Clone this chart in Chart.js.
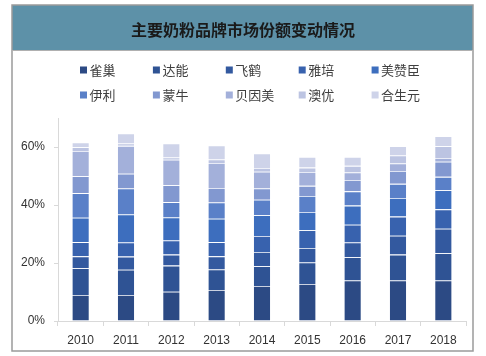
<!DOCTYPE html>
<html><head><meta charset="utf-8">
<script src="https://cdn.jsdelivr.net/npm/chart.js@4/dist/chart.umd.min.js"></script>
<style>html,body{margin:0;padding:0;background:#fff;}#wrap{width:486px;height:356px;position:relative;}</style>
</head><body><div id="wrap"><canvas id="c" width="486" height="356"></canvas></div>
<script>
const TITLE = '主要奶粉品牌市场份额变动情况';
const years = ['2010','2011','2012','2013','2014','2015','2016','2017','2018'];
const brands = ['雀巢','达能','飞鹤','雅培','美赞臣','伊利','蒙牛','贝因美','澳优','合生元'];
const nestle   = [9.0, 9.0, 10.1, 10.7, 12.1, 12.8, 14.0, 14.0, 14.0];
const danone   = [9.2, 8.7, 9.0, 7.1, 6.8, 7.4, 8.0, 8.9, 9.4];
const feihe    = [4.1, 4.5, 3.8, 4.5, 4.9, 5.0, 5.1, 6.5, 8.4];
const abbott   = [4.9, 4.9, 4.9, 4.9, 5.5, 6.1, 6.1, 6.6, 6.7];
const meadJ    = [8.4, 9.6, 7.9, 8.1, 7.2, 6.3, 6.6, 6.4, 6.6];
const yili     = [8.5, 9.0, 5.3, 5.6, 5.3, 5.5, 4.9, 4.9, 4.6];
const mengniu  = [5.8, 5.1, 5.8, 5.0, 3.9, 3.5, 3.9, 4.4, 5.2];
const beingmate= [8.7, 9.6, 8.8, 8.6, 5.8, 4.8, 2.6, 2.6, 1.3];
const ausnutria= [1.3, 0.8, 0.8, 1.2, 1.3, 1.5, 2.3, 2.8, 4.1];
const biostime = [1.7, 3.5, 4.8, 4.8, 5.0, 3.7, 3.1, 3.2, 3.4];
const yTicks = [0, 20, 40, 60];
const series = [nestle, danone, feihe, abbott, meadJ, yili, mengniu, beingmate, ausnutria, biostime];
const colors = ['#2c4a84','#2f5394','#33599f','#3862ae','#3d6ebe','#5a80c8','#8298d0','#a3b0da','#bcc4e2','#ced3e9'];

const framePlugin = {
  id: 'framePlugin',
  beforeDraw(chart) {
    const ctx = chart.ctx;
    ctx.save();
    ctx.fillStyle = '#ffffff';
    ctx.fillRect(0, 0, chart.width, chart.height);
    ctx.fillStyle = '#5d91a8';
    ctx.fillRect(12, 5, 461, 45);
    ctx.fillStyle = '#1a1a1a';
    ctx.font = 'bold 16px "Noto Sans CJK SC"';
    ctx.textAlign = 'center';
    ctx.textBaseline = 'middle';
    ctx.fillText(TITLE, 243, 30);
    ctx.restore();
  },
  afterDraw(chart) {
    const ctx = chart.ctx;
    ctx.save();
    ctx.font = '13px "Noto Sans CJK SC"';
    ctx.textBaseline = 'middle';
    ctx.textAlign = 'left';
    chart.data.datasets.forEach((ds, i) => {
      const row = Math.floor(i / 5), col = i % 5;
      const x = 80 + col * 72.9, y = 70 + row * 25;
      ctx.fillStyle = ds.backgroundColor;
      ctx.fillRect(x, y - 3.5, 7, 7);
      ctx.fillStyle = '#404040';
      ctx.fillText(ds.label, x + 9.5, y + 0.5);
    });
    ctx.strokeStyle = '#9a9a9a';
    ctx.lineWidth = 1.5;
    ctx.strokeRect(12, 5, 461, 346);
    ctx.beginPath();
    ctx.moveTo(12, 50.5); ctx.lineTo(473, 50.5);
    ctx.strokeStyle = '#b0b0b0';
    ctx.lineWidth = 1;
    ctx.stroke();
    ctx.restore();
  }
};

new Chart(document.getElementById('c'), {
  type: 'bar',
  data: {
    labels: years,
    datasets: brands.map((b, i) => ({
      label: b,
      data: series[i],
      backgroundColor: colors[i],
      borderColor: 'rgba(255,255,255,0.25)',
      borderWidth: 0.8,
      barPercentage: 0.39,
      categoryPercentage: 1
    }))
  },
  options: {
    responsive: false,
    animation: false,
    devicePixelRatio: 1,
    layout: { padding: { left: 12, top: 118, right: 20, bottom: 6 } },
    plugins: { legend: { display: false }, title: { display: false }, tooltip: { enabled: false } },
    scales: {
      x: {
        stacked: true,
        afterFit(s) { s.height = 29; },
        grid: { offset: true, drawOnChartArea: false, drawTicks: true, tickLength: 5, color: '#d9d9d9' },
        border: { color: '#d9d9d9', width: 1 },
        ticks: { color: '#333333', padding: 7, font: { family: '"Liberation Sans Narrow", "Liberation Sans", Arial', size: 12 } }
      },
      y: {
        stacked: true,
        min: 0, max: 70,
        afterFit(s) { s.width = 46; },
        afterBuildTicks(s) { s.ticks = yTicks.map(v => ({ value: v })); },
        grid: { drawOnChartArea: false, drawTicks: true, tickLength: 4, color: '#d9d9d9' },
        border: { color: '#d9d9d9', width: 1 },
        ticks: { color: '#333333', padding: 9, callback: v => v + '%', font: { family: '"Liberation Sans Narrow", "Liberation Sans", Arial', size: 12 } }
      }
    }
  },
  plugins: [framePlugin]
});
</script></body></html>
